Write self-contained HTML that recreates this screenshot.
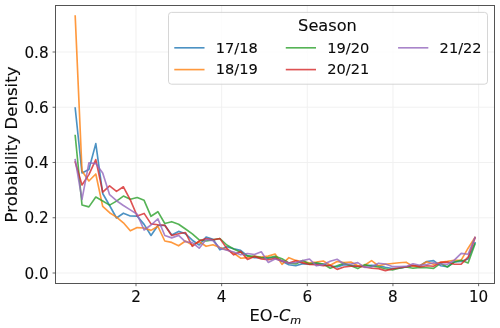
<!DOCTYPE html><html><head><meta charset="utf-8"><style>html,body{margin:0;padding:0;background:#fff}svg{display:block;will-change:transform}text{font-family:"DejaVu Sans","Liberation Sans",sans-serif;fill:#0a0a0a;stroke:#0a0a0a;stroke-width:0.1px}</style></head><body>
<svg width="500" height="328" viewBox="0 0 500 328">
<rect width="500" height="328" fill="#fff"/>
<g stroke="#efefef" stroke-width="0.9"><line x1="136.00" x2="136.00" y1="5.6" y2="283.4"/><line x1="221.65" x2="221.65" y1="5.6" y2="283.4"/><line x1="307.30" x2="307.30" y1="5.6" y2="283.4"/><line x1="392.95" x2="392.95" y1="5.6" y2="283.4"/><line x1="478.60" x2="478.60" y1="5.6" y2="283.4"/><line x1="55.4" x2="494.6" y1="273.00" y2="273.00"/><line x1="55.4" x2="494.6" y1="217.75" y2="217.75"/><line x1="55.4" x2="494.6" y1="162.50" y2="162.50"/><line x1="55.4" x2="494.6" y1="107.25" y2="107.25"/><line x1="55.4" x2="494.6" y1="52.00" y2="52.00"/></g>
<clipPath id="c"><rect x="55.4" y="5.6" width="439.20000000000005" height="277.79999999999995"/></clipPath>
<g clip-path="url(#c)" fill="none" stroke-width="1.65" stroke-opacity="0.8" stroke-linejoin="round" stroke-linecap="square">
<polyline stroke="#1f77b4" points="75.2,108.1 82.0,173.0 88.9,169.5 95.8,143.6 102.7,193.5 109.6,205.5 116.5,218.0 123.4,213.2 130.3,216.0 137.2,216.1 144.1,224.4 151.0,235.5 157.9,225.5 164.8,225.2 171.7,235.0 178.6,231.4 185.5,233.8 192.3,240.2 199.2,245.0 206.1,237.0 213.0,239.2 219.9,249.8 226.8,246.8 233.7,248.8 240.6,250.4 247.5,255.9 254.4,257.7 261.3,257.8 268.2,258.3 275.1,257.2 282.0,261.2 288.9,264.8 295.8,265.7 302.7,263.6 309.5,264.2 316.4,263.4 323.3,264.6 330.2,265.8 337.1,267.0 344.0,264.6 350.9,265.2 357.8,266.4 364.7,265.8 371.6,265.4 378.5,265.8 385.4,267.3 392.3,268.5 399.2,268.2 406.1,267.0 413.0,265.8 419.9,265.8 426.7,261.5 433.6,260.6 440.5,265.7 447.4,266.8 454.3,262.0 461.2,261.4 468.1,259.0 475.0,242.8"/>
<polyline stroke="#ff7f0e" points="75.2,16.1 82.0,171.0 88.9,181.0 95.8,174.0 102.7,206.3 109.6,212.7 116.5,217.1 123.4,222.8 130.3,230.8 137.2,227.6 144.1,228.0 151.0,230.4 157.9,226.3 164.8,241.0 171.7,242.4 178.6,245.8 185.5,241.0 192.3,245.0 199.2,241.8 206.1,246.3 213.0,244.7 219.9,247.6 226.8,249.6 233.7,253.0 240.6,258.2 247.5,257.6 254.4,256.3 261.3,257.1 268.2,256.1 275.1,254.0 282.0,264.4 288.9,257.7 295.8,260.4 302.7,261.9 309.5,262.7 316.4,262.0 323.3,261.0 330.2,265.2 337.1,261.5 344.0,262.6 350.9,262.0 357.8,265.8 364.7,265.2 371.6,260.6 378.5,265.8 385.4,264.2 392.3,263.5 399.2,262.8 406.1,262.2 413.0,266.4 419.9,265.8 426.7,261.8 433.6,264.2 440.5,262.4 447.4,261.4 454.3,260.2 461.2,260.2 468.1,248.2 475.0,237.4"/>
<polyline stroke="#2ca02c" points="75.2,135.6 82.0,205.0 88.9,206.9 95.8,197.0 102.7,201.0 109.6,205.1 116.5,201.1 123.4,196.1 130.3,199.3 137.2,197.5 144.1,200.3 151.0,216.3 157.9,211.7 164.8,223.5 171.7,221.7 178.6,224.2 185.5,229.0 192.3,233.8 199.2,239.9 206.1,241.0 213.0,239.9 219.9,238.5 226.8,245.0 233.7,249.0 240.6,252.2 247.5,255.9 254.4,256.4 261.3,257.5 268.2,257.7 275.1,256.4 282.0,258.8 288.9,262.9 295.8,263.9 302.7,260.6 309.5,263.9 316.4,262.8 323.3,264.0 330.2,268.2 337.1,265.8 344.0,263.4 350.9,265.8 357.8,268.6 364.7,264.6 371.6,266.2 378.5,267.0 385.4,268.8 392.3,270.0 399.2,268.2 406.1,267.0 413.0,268.2 419.9,267.4 426.7,267.8 433.6,268.4 440.5,263.4 447.4,267.0 454.3,262.0 461.2,260.2 468.1,263.0 475.0,244.0"/>
<polyline stroke="#d62728" points="75.2,162.0 82.0,185.0 88.9,174.6 95.8,159.6 102.7,192.2 109.6,185.8 116.5,191.4 123.4,186.8 130.3,199.9 137.2,216.0 144.1,213.4 151.0,223.9 157.9,224.7 164.8,225.2 171.7,235.5 178.6,233.8 185.5,232.5 192.3,246.3 199.2,241.0 206.1,238.6 213.0,239.7 219.9,238.6 226.8,248.4 233.7,254.8 240.6,251.4 247.5,259.4 254.4,256.4 261.3,258.9 268.2,259.8 275.1,258.4 282.0,260.9 288.9,263.0 295.8,260.7 302.7,262.9 309.5,264.5 316.4,264.6 323.3,265.8 330.2,265.3 337.1,269.4 344.0,267.0 350.9,266.2 357.8,266.2 364.7,267.0 371.6,268.2 378.5,268.6 385.4,270.6 392.3,269.0 399.2,267.8 406.1,267.0 413.0,265.2 419.9,267.0 426.7,265.7 433.6,266.3 440.5,262.4 447.4,262.0 454.3,264.2 461.2,264.2 468.1,257.2 475.0,238.0"/>
<polyline stroke="#9467bd" points="75.2,159.6 82.0,199.4 88.9,162.8 95.8,163.6 102.7,173.0 109.6,194.7 116.5,200.7 123.4,205.5 130.3,209.9 137.2,214.3 144.1,230.0 151.0,225.0 157.9,218.9 164.8,235.5 171.7,237.9 178.6,235.4 185.5,241.8 192.3,242.6 199.2,248.2 206.1,239.4 213.0,240.6 219.9,248.1 226.8,250.2 233.7,252.0 240.6,254.8 247.5,253.5 254.4,254.5 261.3,251.8 268.2,262.4 275.1,259.0 282.0,260.9 288.9,263.0 295.8,262.6 302.7,260.6 309.5,259.0 316.4,265.8 323.3,264.6 330.2,261.2 337.1,259.3 344.0,264.0 350.9,264.0 357.8,262.6 364.7,267.4 371.6,267.0 378.5,263.2 385.4,264.0 392.3,266.6 399.2,266.6 406.1,266.4 413.0,263.8 419.9,265.2 426.7,264.5 433.6,262.8 440.5,263.9 447.4,264.2 454.3,260.2 461.2,253.4 468.1,254.2 475.0,237.4"/>
</g>
<rect x="55.4" y="5.6" width="439.20000000000005" height="277.79999999999995" fill="none" stroke="#2a2a2a" stroke-width="0.8"/>
<g stroke="#444" stroke-width="0.8"><line x1="136.00" x2="136.00" y1="283.4" y2="286.2"/><line x1="221.65" x2="221.65" y1="283.4" y2="286.2"/><line x1="307.30" x2="307.30" y1="283.4" y2="286.2"/><line x1="392.95" x2="392.95" y1="283.4" y2="286.2"/><line x1="478.60" x2="478.60" y1="283.4" y2="286.2"/><line x1="52.6" x2="55.4" y1="273.00" y2="273.00"/><line x1="52.6" x2="55.4" y1="217.75" y2="217.75"/><line x1="52.6" x2="55.4" y1="162.50" y2="162.50"/><line x1="52.6" x2="55.4" y1="107.25" y2="107.25"/><line x1="52.6" x2="55.4" y1="52.00" y2="52.00"/></g>
<g font-size="15.2px">
<text x="136.00" y="302" text-anchor="middle">2</text>
<text x="221.65" y="302" text-anchor="middle">4</text>
<text x="307.30" y="302" text-anchor="middle">6</text>
<text x="392.95" y="302" text-anchor="middle">8</text>
<text x="478.60" y="302" text-anchor="middle">10</text>
<text x="48.6" y="278.70" text-anchor="end">0.0</text>
<text x="48.6" y="223.45" text-anchor="end">0.2</text>
<text x="48.6" y="168.20" text-anchor="end">0.4</text>
<text x="48.6" y="112.95" text-anchor="end">0.6</text>
<text x="48.6" y="57.70" text-anchor="end">0.8</text>
</g>
<text x="275.4" y="320.8" text-anchor="middle" font-size="16.3px">EO-<tspan font-style="italic">C</tspan><tspan font-style="italic" font-size="11.2px" dy="3.2">m</tspan></text>
<text transform="translate(16.8,144.5) rotate(-90)" text-anchor="middle" font-size="16.6px">Probability Density</text>
<rect x="168.5" y="12.4" width="319" height="71.8" rx="3" ry="3" fill="#fff" fill-opacity="0.8" stroke="#ccc" stroke-opacity="0.8" stroke-width="1"/>
<text x="327.5" y="31" text-anchor="middle" font-size="16.2px">Season</text>
<g font-size="14.6px">
<line x1="175.10000000000002" x2="203.70000000000002" y1="47.8" y2="47.8" stroke="#1f77b4" stroke-opacity="0.8" stroke-width="1.65" stroke-linecap="square"/>
<text x="215.8" y="52.5">17/18</text>
<line x1="175.10000000000002" x2="203.70000000000002" y1="69.6" y2="69.6" stroke="#ff7f0e" stroke-opacity="0.8" stroke-width="1.65" stroke-linecap="square"/>
<text x="215.8" y="74.3">18/19</text>
<line x1="286.6" x2="315.2" y1="47.8" y2="47.8" stroke="#2ca02c" stroke-opacity="0.8" stroke-width="1.65" stroke-linecap="square"/>
<text x="327.3" y="52.5">19/20</text>
<line x1="286.6" x2="315.2" y1="69.6" y2="69.6" stroke="#d62728" stroke-opacity="0.8" stroke-width="1.65" stroke-linecap="square"/>
<text x="327.3" y="74.3">20/21</text>
<line x1="398.90000000000003" x2="427.5" y1="47.8" y2="47.8" stroke="#9467bd" stroke-opacity="0.8" stroke-width="1.65" stroke-linecap="square"/>
<text x="439.6" y="52.5">21/22</text>
</g>
</svg></body></html>
